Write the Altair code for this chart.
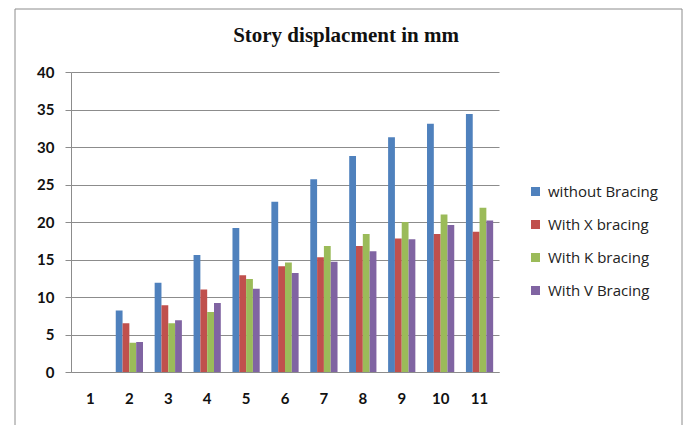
import altair as alt
import pandas as pd

# Story numbers and lateral displacement (mm) for each bracing system
stories = [1, 2, 3, 4, 5, 6, 7, 8, 9, 10, 11]
series_names = ["without Bracing", "With X bracing", "With K bracing", "With V Bracing"]
without_bracing = [0, 8.2, 11.9, 15.6, 19.2, 22.7, 25.7, 28.8, 31.3, 33.1, 34.4]
x_bracing = [0, 6.5, 8.9, 11.0, 12.9, 14.1, 15.3, 16.8, 17.8, 18.4, 18.7]
k_bracing = [0, 3.9, 6.5, 8.0, 12.4, 14.6, 16.8, 18.4, 20.0, 21.0, 21.9]
v_bracing = [0, 4.0, 6.9, 9.2, 11.1, 13.2, 14.7, 16.1, 17.7, 19.6, 20.2]
series_colors = ["#4F81BD", "#C0504D", "#9BBB59", "#8064A2"]
y_ticks = [0, 5, 10, 15, 20, 25, 30, 35, 40]

rows = []
for name, values in zip(series_names, [without_bracing, x_bracing, k_bracing, v_bracing]):
    for s, v in zip(stories, values):
        rows.append({"story": s, "series": name, "displacement": v})
df = pd.DataFrame(rows)

W, H = 428, 300
LEFT, TOP = 71, 72
GRID = "#8c8c8c"

bars = alt.Chart(df).mark_bar().encode(
    x=alt.X(
        "story:O",
        title=None,
        scale=alt.Scale(paddingInner=0.3, paddingOuter=0.15),
        axis=alt.Axis(
            labelAngle=0,
            ticks=False,
            labelPadding=19,
            labelFont="Lato",
            labelFontSize=15,
            labelFontWeight="bold",
            labelColor="#111111",
            domainColor=GRID,
            grid=False,
        ),
    ),
    xOffset=alt.XOffset("series:N", sort=series_names),
    y=alt.Y(
        "displacement:Q",
        title=None,
        scale=alt.Scale(domain=[0, 40], nice=False),
        axis=alt.Axis(
            values=y_ticks,
            tickSize=6,
            tickColor=GRID,
            labelPadding=11,
            labelFont="Lato",
            labelFontSize=15,
            labelFontWeight="bold",
            labelColor="#111111",
            domainColor=GRID,
            gridColor=GRID,
            gridWidth=1,
        ),
    ),
    color=alt.Color(
        "series:N",
        sort=series_names,
        scale=alt.Scale(domain=series_names, range=series_colors),
        legend=alt.Legend(
            title=None,
            orient="none",
            legendX=457,
            legendY=112,
            symbolType="square",
            symbolSize=81,
            symbolStrokeWidth=0,
            labelFont="Open Sans",
            labelFontSize=15,
            labelColor="#222222",
            labelOffset=5,
            rowPadding=17,
        ),
    ),
)

# Outer frame around the whole chart
frame = alt.Chart(pd.DataFrame({"k": [0]})).mark_rect(
    fill=None, stroke="#8c8c8c", strokeWidth=1, clip=False
).encode(
    x=alt.value(15 - LEFT),
    x2=alt.value(682 - LEFT),
    y=alt.value(9 - TOP),
    y2=alt.value(440 - TOP),
)

chart = (
    alt.layer(frame, bars)
    .properties(
        width=W,
        height=H,
        title=alt.Title(
            "Story displacment in mm",
            font="Liberation Serif",
            fontSize=21,
            fontWeight="bold",
            color="#111111",
            anchor="middle",
            frame="group",
            dx=61,
            offset=-37,
        ),
        autosize=alt.AutoSizeParams(type="none"),
        padding={"left": LEFT, "top": TOP, "right": 685 - LEFT - W, "bottom": 425 - TOP - H},
        background="white",
    )
    .configure_view(stroke=None)
)

chart.save("out.html", embed_options={"renderer": "svg", "actions": False})
